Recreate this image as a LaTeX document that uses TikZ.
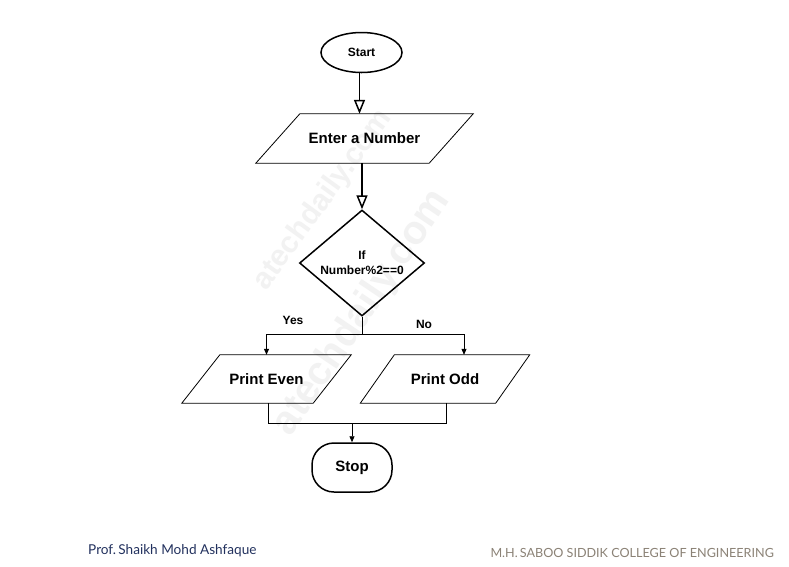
\documentclass[tikz,border=0pt]{standalone}
\usepackage{fontspec}
\setmainfont{Liberation Sans}
\newfontfamily\footfont{Lato}
\usetikzlibrary{shapes.geometric,arrows.meta,calc}
\definecolor{profblue}{HTML}{22315E}
\definecolor{collgray}{HTML}{8B8276}
\tikzset{
  thick line/.style={line width=1.5pt},
  thin line/.style={line width=0.8pt},
  lbl/.style={font=\bfseries\fontsize{15}{17}\selectfont, inner sep=0pt},
  small lbl/.style={font=\bfseries\fontsize{12}{14}\selectfont, inner sep=0pt},
  openarrow/.style={thick line, -{Triangle[open, length=14pt, width=11pt]}},
  smallarrow/.style={thin line, -{Triangle[length=6pt, width=5pt]}},
  wmark/.style={text=black!5, inner sep=0pt},
}
\newcommand{\paraoutline}[2]{%
  \draw[thin line] ([xshift=#2]#1.north west) -- ([xshift=#2]#1.north east)
    -- ([xshift=-#2]#1.south east) -- ([xshift=-#2]#1.south west) -- cycle;}
\begin{document}
\begin{tikzpicture}[x=1pt,y=-1pt]
\useasboundingbox (0,0) rectangle (789,566);
\fill[white] (0,0) rectangle (789,566);
% watermark
\node[wmark, rotate=54, font=\bfseries\fontsize{30}{30}\selectfont] (wm1) at (323,200) {atechdaily.com};
\node[wmark, rotate=56, font=\bfseries\fontsize{40}{40}\selectfont] (wm2) at (362,313) {atechdaily.com};
% start
\node[ellipse, draw, thick line, minimum width=81pt, minimum height=40pt, small lbl] (start) at (361.5,52.5) {Start};
% enter
\node[lbl, minimum width=173pt, minimum height=49pt] (enter) at (364.5,138.5) {Enter a Number};
\paraoutline{enter}{22pt}
% decision
\node[diamond, draw, thick line, aspect=1.18, inner sep=0pt, minimum width=125pt, minimum height=106pt,
      small lbl, align=center] (dec) at (362,263) {If\\[1pt]Number\%2==0};
% outputs
\node[lbl, minimum width=131pt, minimum height=48pt] (even) at (266.5,379) {Print Even};
\paraoutline{even}{19pt}
\node[lbl, minimum width=135pt, minimum height=48pt] (odd) at (445,379) {Print Odd};
\paraoutline{odd}{17pt}
% stop
\node[draw, thick line, rounded corners=22pt, minimum width=80pt, minimum height=49pt, lbl] (stop) at (352,467.5) {Stop};
% connectors
\draw[openarrow] ([xshift=-2pt]start.south) -- ([xshift=-2pt]start.south |- enter.north);
\draw[openarrow] (dec.north |- enter.south) -- (dec.north);
\draw[thin line] (dec.south) -- ++(0,18) coordinate (br);
\draw[smallarrow] (br) -| (even.north);
\draw[smallarrow] (br) -| ([xshift=19pt]odd.north);
\coordinate (mg) at (352,423);
\draw[thin line] ([xshift=1.5pt]even.south) |- (mg);
\draw[thin line] ([xshift=1pt]odd.south) |- (mg);
\draw[smallarrow] (mg) -- (stop.north);
% branch labels
\node[small lbl] (yes) at (293,320.5) {Yes};
\node[small lbl] (no) at (424,324.5) {No};
% footer
\node[anchor=west, inner sep=0pt, text=profblue, font=\footfont\fontsize{13.6}{15}\selectfont] (prof) at (88,551) {Prof.\,Shaikh Mohd Ashfaque};
\node[anchor=east, inner sep=0pt, text=collgray, font=\footfont\fontsize{12.6}{14}\selectfont] (coll) at (774,553) {M.H.\,SABOO SIDDIK COLLEGE OF ENGINEERING};
\end{tikzpicture}
\end{document}
